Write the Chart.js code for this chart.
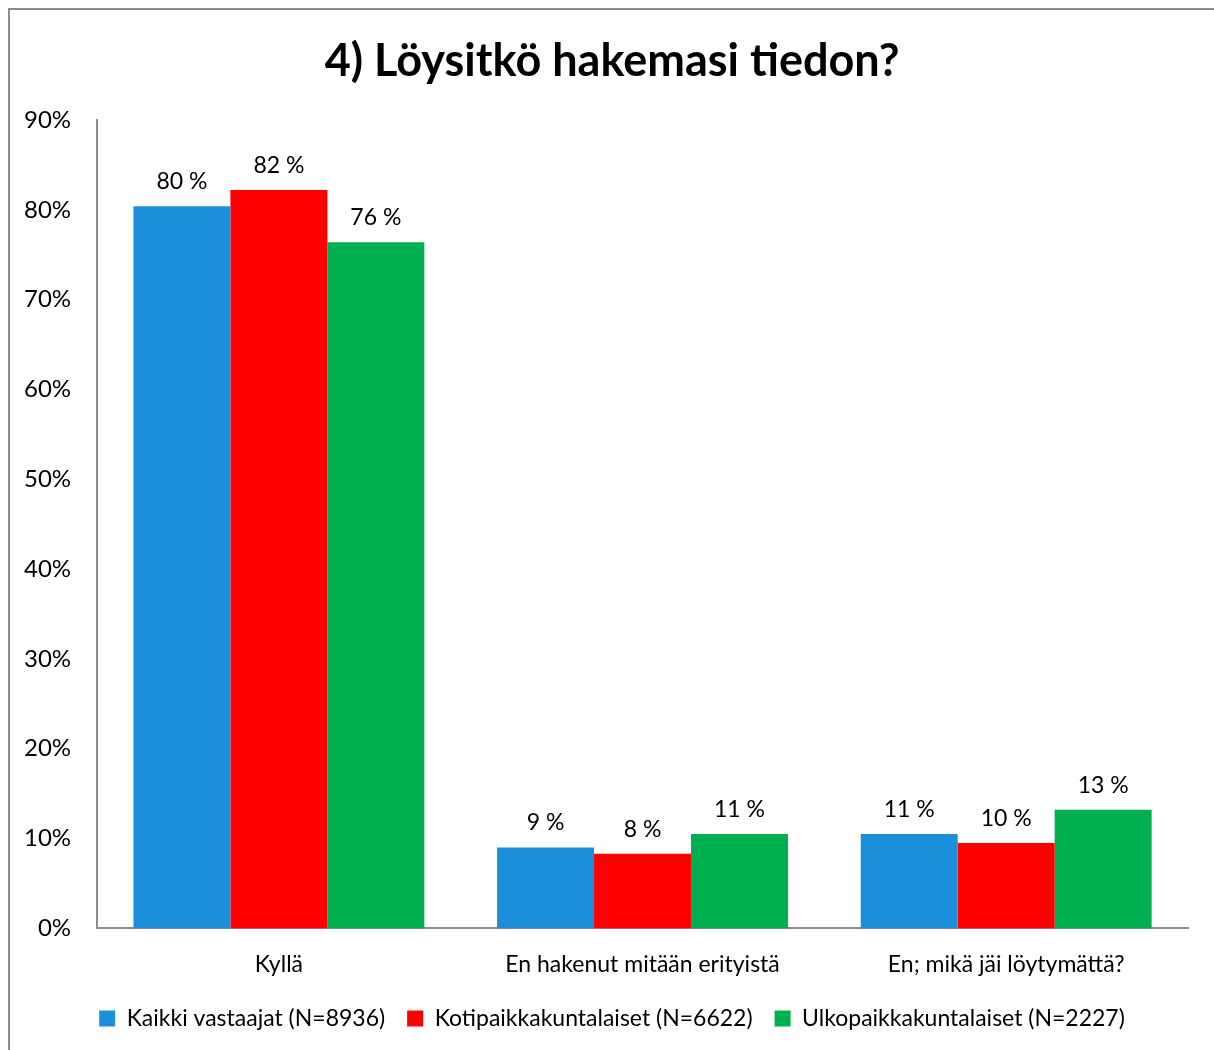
<!DOCTYPE html>
<html>
<head>
<meta charset="utf-8">
<script src="https://cdn.jsdelivr.net/npm/chart.js@4.4.0/dist/chart.umd.min.js"></script>
<style>
  html, body { margin: 0; padding: 0; background: #fff; overflow: hidden; }
  #frame {
    position: absolute; left: 8px; top: 8px; width: 1210px; height: 1070px;
    border: 2px solid #8c8c8c; box-sizing: border-box; background: #fff;
  }
  #wrap { position: absolute; left: 0; top: 0; width: 1206px; height: 1055px; }
</style>
</head>
<body>
<div id="frame"><div id="wrap"><canvas id="chart"></canvas></div></div>
<script>
const categories = ["Kyllä", "En hakenut mitään erityistä", "En; mikä jäi löytymättä?"];
const seriesNames = ["Kaikki vastaajat (N=8936)", "Kotipaikkakuntalaiset (N=6622)", "Ulkopaikkakuntalaiset (N=2227)"];
const allRespondents = [80.4, 9.0, 10.5];
const locals = [82.2, 8.3, 9.5];
const nonLocals = [76.4, 10.5, 13.2];
const colors = ["#1c8fdc", "#ff0000", "#00b050"];

const fontFamily = "Lato, 'Open Sans', sans-serif";

// value labels above each bar, e.g. "80 %"
const barLabels = {
  id: "barLabels",
  afterDatasetsDraw(chart) {
    const ctx = chart.ctx;
    ctx.save();
    ctx.font = "23px " + fontFamily;
    ctx.fillStyle = "#000";
    ctx.textAlign = "center";
    ctx.textBaseline = "bottom";
    chart.data.datasets.forEach((ds, i) => {
      chart.getDatasetMeta(i).data.forEach((bar, j) => {
        ctx.fillText(Math.round(ds.data[j]) + " %", bar.x, bar.y - 13);
      });
    });
    ctx.restore();
  },
};

// legend a bit closer to the category labels, title and legend centred on the frame
const blockNudge = {
  id: "blockNudge",
  afterLayout(chart) {
    if (chart.legend) {
      chart.legend.top -= 15;
      chart.legend.bottom -= 15;
      chart.legend.left += 16;
      chart.legend.right += 16;
    }
    if (chart.titleBlock) {
      chart.titleBlock.left += 16;
      chart.titleBlock.right += 16;
    }
  },
};

new Chart(document.getElementById("chart"), {
  type: "bar",
  data: {
    labels: categories,
    datasets: [
      { label: seriesNames[0], data: allRespondents, backgroundColor: colors[0] },
      { label: seriesNames[1], data: locals, backgroundColor: colors[1] },
      { label: seriesNames[2], data: nonLocals, backgroundColor: colors[2] },
    ],
  },
  options: {
    responsive: true,
    maintainAspectRatio: false,
    animation: false,
    categoryPercentage: 0.8,
    barPercentage: 1.0,
    layout: { padding: { left: -6, right: 28, top: 12, bottom: 10 } },
    scales: {
      x: {
        grid: { display: false, drawTicks: false },
        border: { color: "#8c8c8c", width: 2 },
        ticks: { color: "#000", font: { family: fontFamily, size: 23 }, padding: 22 },
      },
      y: {
        min: 0,
        max: 90,
        grid: { display: false, tickLength: 6 },
        border: { color: "#8c8c8c", width: 2 },
        ticks: {
          stepSize: 10,
          color: "#000",
          font: { family: fontFamily, size: 24 },
          padding: 20,
          callback: (v) => v + "%",
        },
      },
    },
    plugins: {
      title: {
        display: true,
        text: "4) Löysitkö hakemasi tiedon?",
        color: "#000",
        font: { family: fontFamily, size: 45, weight: "bold" },
        padding: { top: 12, bottom: 32 },
      },
      legend: {
        position: "bottom",
        labels: {
          color: "#000",
          font: { family: fontFamily, size: 23 },
          boxWidth: 16,
          boxHeight: 16,
          padding: 22,
        },
      },
      tooltip: { enabled: false },
    },
  },
  plugins: [barLabels, blockNudge],
});
</script>
</body>
</html>
